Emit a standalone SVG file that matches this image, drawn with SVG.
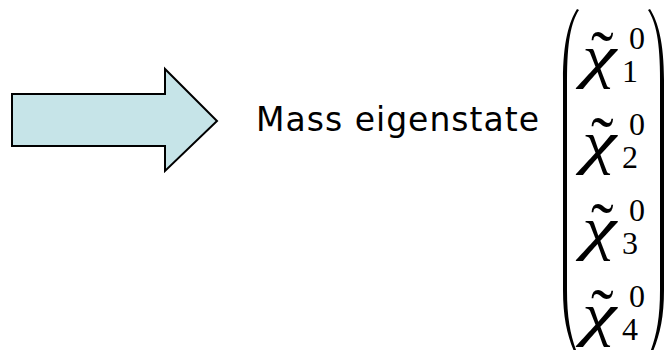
<svg xmlns="http://www.w3.org/2000/svg" width="668" height="350" viewBox="0 0 668 350">
  <style>
    .block { fill: #c6e4e8; stroke: #000; stroke-width: 2; stroke-linejoin: miter; }
    .label { font-family: "DejaVu Sans", "Liberation Sans", sans-serif; font-size: 33px; fill: #000; }
    .chi { font-family: "Liberation Serif", "Times New Roman", serif; font-style: italic; font-size: 60px; fill: #000; }
    .tilde { font-family: "Liberation Serif", "Times New Roman", serif; font-size: 68px; fill: #000; }
    .idx { font-family: "Liberation Serif", "Times New Roman", serif; font-size: 32px; fill: #000; }
    .paren { fill: #000; }
  </style>
  <defs>
    <!-- one row of the neutralino vector: tilde, chi, superscript 0 -->
    <g id="chi-row">
      <text class="tilde" x="591" y="78">˜</text>
      <text class="chi" transform="translate(582,76) scale(1.3,1)">χ</text>
      <text class="idx" x="629" y="49">0</text>
    </g>
  </defs>

  <!-- block arrow -->
  <g id="arrow">
    <polygon class="block" points="12,94 165,94 165,69 217,121 165,171 165,146 12,146"/>
  </g>

  <!-- caption -->
  <g id="label">
    <text class="label" x="256" y="131" textLength="283" lengthAdjust="spacing">Mass eigenstate</text>
  </g>

  <!-- column vector of the four mass eigenstates -->
  <g id="vector">
    <path class="paren" d="M577,9 C569,22 563,42 563,80 L563,290 C563,320 568,338 576,356 L578,355 C571,338 567,320 567,290 L567,80 C567,42 571,22 579,10 Z"/>
    <path class="paren" d="M650,9 C658,22 664,42 664,80 L664,290 C664,320 659,338 651,356 L649,355 C656,338 660,320 660,290 L660,80 C660,42 656,22 648,10 Z"/>
    <g id="chi1">
      <use href="#chi-row"/>
      <text class="idx" x="622" y="82">1</text>
    </g>
    <g id="chi2" transform="translate(0,86)">
      <use href="#chi-row"/>
      <text class="idx" x="622" y="82">2</text>
    </g>
    <g id="chi3" transform="translate(0,172)">
      <use href="#chi-row"/>
      <text class="idx" x="622" y="82">3</text>
    </g>
    <g id="chi4" transform="translate(0,258)">
      <use href="#chi-row"/>
      <text class="idx" x="622" y="82">4</text>
    </g>
  </g>
</svg>
